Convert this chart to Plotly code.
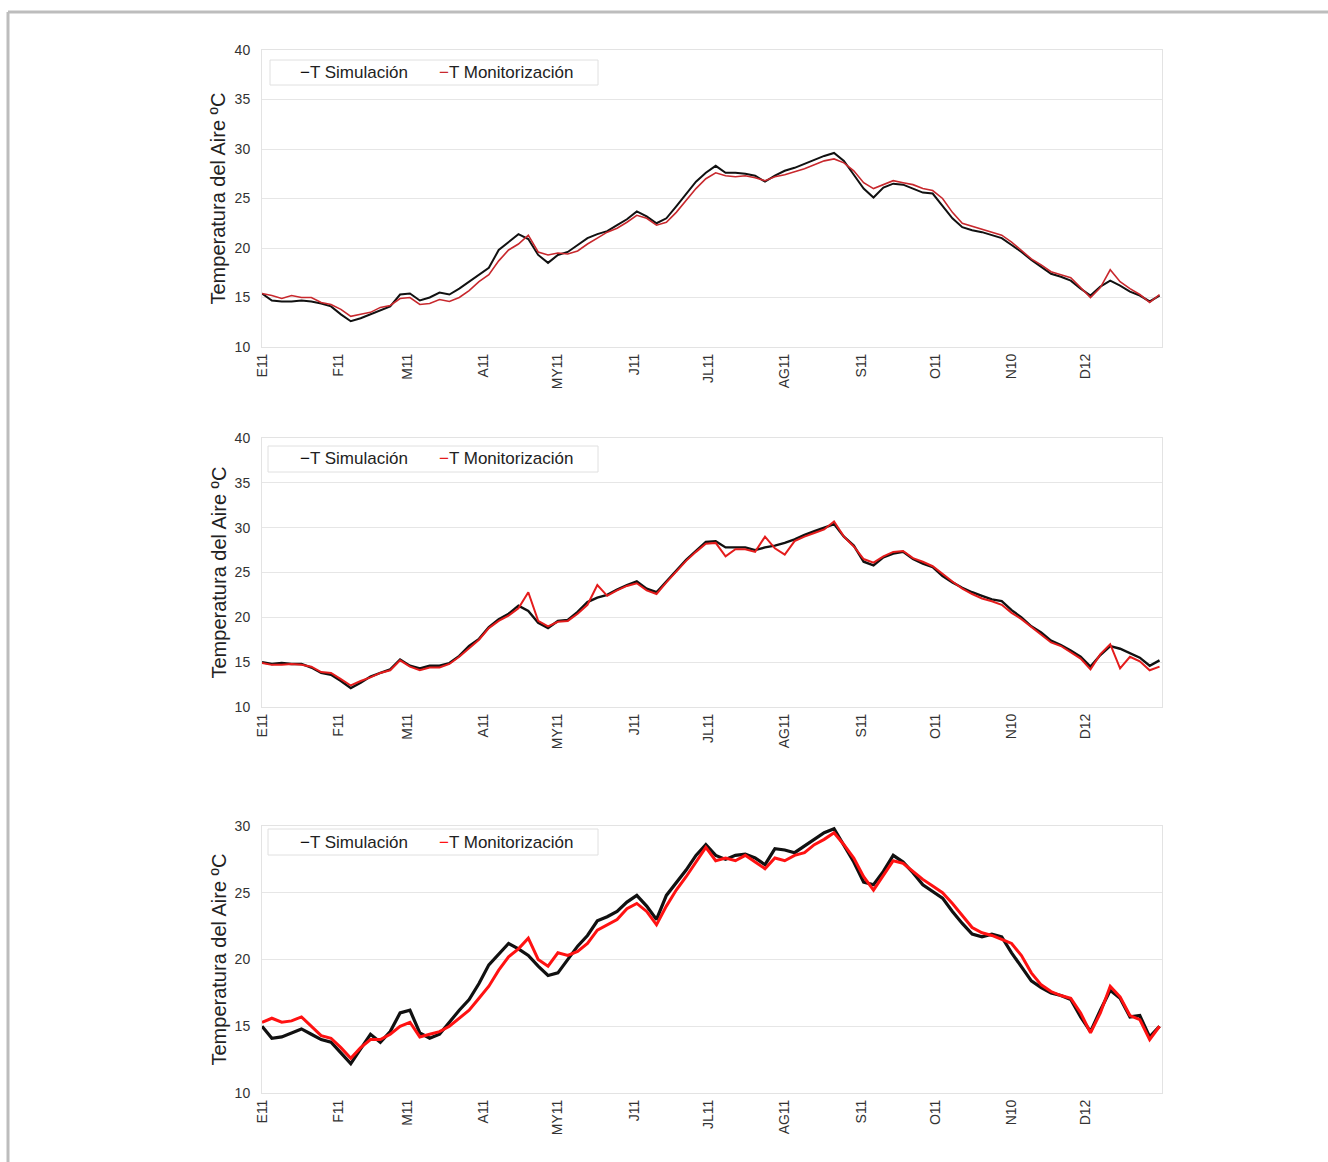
import plotly.graph_objects as go

# ---------------- data ----------------
days = list(range(0, 365, 4))  # sampling days (day of year)

month_ticks = [0, 31, 59, 90, 120, 151, 181, 212, 243, 273, 304, 334]
month_labels = ["E11", "F11", "M11", "A11", "MY11", "J11", "JL11", "AG11", "S11", "O11", "N10", "D12"]

sim_1 = [15.4, 14.7, 14.6, 14.6, 14.7, 14.6, 14.4, 14.1, 13.3, 12.6, 12.9, 13.3, 13.7, 14.1, 15.3, 15.4,
         14.7, 15.0, 15.5, 15.3, 15.9, 16.6, 17.3, 18.0, 19.8, 20.6, 21.4, 20.9, 19.3, 18.5, 19.3, 19.6,
         20.3, 21.0, 21.4, 21.7, 22.3, 22.9, 23.7, 23.2, 22.5, 23.0, 24.2, 25.5, 26.7, 27.6, 28.3, 27.6,
         27.6, 27.5, 27.3, 26.7, 27.3, 27.8, 28.1, 28.5, 28.9, 29.3, 29.6, 28.8, 27.4, 26.0, 25.1, 26.1,
         26.5, 26.4, 26.0, 25.6, 25.5, 24.3, 23.0, 22.1, 21.8, 21.6, 21.3, 21.0, 20.3, 19.6, 18.8, 18.1,
         17.4, 17.1, 16.7, 15.9, 15.2, 16.1, 16.7, 16.2, 15.6, 15.2, 14.6, 15.2]
mon_1 = [15.4, 15.2, 14.9, 15.2, 15.0, 15.0, 14.5, 14.3, 13.8, 13.1, 13.3, 13.5, 14.0, 14.2, 14.9, 15.0,
         14.3, 14.4, 14.8, 14.6, 15.0, 15.7, 16.6, 17.3, 18.7, 19.8, 20.4, 21.3, 19.6, 19.3, 19.5, 19.4,
         19.7, 20.4, 21.0, 21.6, 22.0, 22.6, 23.3, 23.0, 22.3, 22.6, 23.6, 24.8, 26.0, 27.0, 27.6, 27.3,
         27.2, 27.3, 27.1, 26.8, 27.2, 27.4, 27.7, 28.0, 28.4, 28.8, 29.0, 28.6, 27.8, 26.6, 26.0, 26.4,
         26.8, 26.6, 26.4, 26.0, 25.8, 25.0, 23.6, 22.5, 22.2, 21.9, 21.6, 21.3, 20.6, 19.7, 18.9, 18.3,
         17.6, 17.3, 17.0, 16.0, 15.0, 16.0, 17.8, 16.6, 15.9, 15.3, 14.5, 15.3]

sim_2 = [15.0, 14.8, 14.9, 14.8, 14.8, 14.4, 13.8, 13.6, 12.9, 12.1, 12.7, 13.4, 13.8, 14.2, 15.3, 14.6,
         14.3, 14.6, 14.6, 14.9, 15.7, 16.8, 17.6, 18.9, 19.8, 20.4, 21.3, 20.7, 19.4, 18.8, 19.6, 19.7,
         20.6, 21.7, 22.2, 22.5, 23.1, 23.6, 24.0, 23.2, 22.8, 24.0, 25.2, 26.4, 27.4, 28.4, 28.5, 27.8,
         27.8, 27.8, 27.5, 27.8, 28.0, 28.3, 28.7, 29.2, 29.6, 30.0, 30.4, 29.0, 28.0, 26.2, 25.8, 26.7,
         27.1, 27.3, 26.5, 26.0, 25.6, 24.6, 23.9, 23.3, 22.8, 22.4, 22.0, 21.8, 20.8, 20.0, 19.0, 18.3,
         17.4, 16.9, 16.3, 15.6, 14.5, 15.8, 16.8, 16.5, 16.0, 15.5, 14.6, 15.2]
mon_2 = [14.9, 14.7, 14.7, 14.8, 14.7, 14.5, 13.9, 13.8, 13.1, 12.4, 12.9, 13.3, 13.8, 14.1, 15.2, 14.5,
         14.1, 14.4, 14.4, 14.8, 15.6, 16.6, 17.5, 18.8, 19.6, 20.2, 21.0, 22.8, 19.6, 19.0, 19.5, 19.6,
         20.4, 21.4, 23.6, 22.4, 23.0, 23.5, 23.8, 23.0, 22.6, 23.9, 25.1, 26.3, 27.3, 28.2, 28.3, 26.8,
         27.6, 27.6, 27.3, 29.0, 27.7, 27.0, 28.5, 29.0, 29.4, 29.8, 30.7, 29.0, 27.9, 26.5, 26.1, 26.8,
         27.3, 27.4, 26.6, 26.2, 25.7, 24.8, 24.0, 23.2, 22.6, 22.1, 21.8, 21.4, 20.5, 19.8, 18.9, 18.1,
         17.2, 16.8, 16.1, 15.4, 14.2, 15.9, 17.0, 14.3, 15.6, 15.1, 14.1, 14.5]

sim_3 = [15.0, 14.1, 14.2, 14.5, 14.8, 14.4, 14.0, 13.8, 13.0, 12.2, 13.3, 14.4, 13.8, 14.6, 16.0, 16.2,
         14.5, 14.1, 14.4, 15.3, 16.2, 17.0, 18.2, 19.6, 20.4, 21.2, 20.8, 20.3, 19.5, 18.8, 19.0, 20.0,
         21.0, 21.8, 22.9, 23.2, 23.6, 24.3, 24.8, 24.0, 23.0, 24.8, 25.8, 26.7, 27.8, 28.6, 27.8, 27.5,
         27.8, 27.9, 27.6, 27.1, 28.3, 28.2, 28.0, 28.5, 29.0, 29.5, 29.8, 28.6, 27.3, 25.8, 25.6, 26.6,
         27.8, 27.3, 26.5, 25.6, 25.1, 24.6, 23.6, 22.7, 21.9, 21.7, 21.9, 21.7, 20.5, 19.5, 18.4, 17.9,
         17.5, 17.3, 17.0, 15.7, 14.6, 16.2, 17.7, 17.1, 15.7, 15.8, 14.2, 15.0]
mon_3 = [15.3, 15.6, 15.3, 15.4, 15.7, 15.0, 14.3, 14.1, 13.4, 12.6, 13.4, 14.0, 14.0, 14.4, 15.0, 15.3,
         14.2, 14.4, 14.6, 15.0, 15.6, 16.2, 17.1, 18.0, 19.2, 20.2, 20.8, 21.6, 20.0, 19.5, 20.5, 20.3,
         20.6, 21.2, 22.2, 22.6, 23.0, 23.8, 24.2, 23.6, 22.6, 24.0, 25.2, 26.2, 27.3, 28.4, 27.4, 27.6,
         27.4, 27.8, 27.3, 26.8, 27.6, 27.4, 27.8, 28.0, 28.6, 29.0, 29.5, 28.6, 27.6, 26.2, 25.2, 26.3,
         27.4, 27.2, 26.6, 26.0, 25.5, 25.0, 24.2, 23.3, 22.4, 22.0, 21.8, 21.5, 21.2, 20.3, 19.0, 18.1,
         17.6, 17.3, 17.1, 16.0, 14.5, 16.0, 18.0, 17.2, 15.8, 15.5, 14.0, 15.0]

series_names = ["T Simulación", "T Monitorización"]
y_title = "Temperatura del Aire ºC"

# ---------------- layout helpers ----------------
W, H = 1328, 1162
FONT = "Liberation Sans, Arial, sans-serif"

def px_x(x):
    return x / W

def px_y(y):
    return 1 - y / H

panels = [
    dict(sim=sim_1, mon=mon_1, top=50, bottom=347, yr=[10, 40], red="#c8282d", ws=2.0, wm=1.6, leg=(270, 598, 60, 85)),
    dict(sim=sim_2, mon=mon_2, top=438, bottom=707, yr=[10, 40], red="#e41c1c", ws=2.4, wm=2.0, leg=(268, 598, 446, 472)),
    dict(sim=sim_3, mon=mon_3, top=826, bottom=1093, yr=[10, 30], red="#ff1212", ws=3.2, wm=3.0, leg=(268, 598, 829, 855)),
]

x_left, x_right = 262, 1162

fig = go.Figure()
shapes = []
annotations = []

for i, p in enumerate(panels):
    n = "" if i == 0 else str(i + 1)
    xa, ya = "x" + n, "y" + n
    fig.add_trace(go.Scatter(x=days, y=p["sim"], mode="lines", name=series_names[0],
                             line=dict(color="#111111", width=p["ws"]), xaxis=xa, yaxis=ya,
                             showlegend=False))
    fig.add_trace(go.Scatter(x=days, y=p["mon"], mode="lines", name=series_names[1],
                             line=dict(color=p["red"], width=p["wm"]), xaxis=xa, yaxis=ya,
                             showlegend=False))
    axis_common = dict(showline=True, mirror=True, linecolor="#e3e3e3", linewidth=1, automargin=False)
    fig.update_layout(**{
        "xaxis" + n: dict(domain=[px_x(x_left), px_x(x_right)], range=[0, 365], anchor=ya,
                          tickmode="array", tickvals=month_ticks, ticktext=month_labels,
                          tickangle=-90, showgrid=False, zeroline=False,
                          tickfont=dict(family=FONT, size=14, color="#333333"),
                          ticks="", **axis_common),
        "yaxis" + n: dict(domain=[px_y(p["bottom"]), px_y(p["top"])], range=p["yr"], anchor=xa,
                          dtick=5, showgrid=True, gridcolor="#e6e6e6", gridwidth=1,
                          zeroline=False, ticks="", ticklabelstandoff=8,
                          tickfont=dict(family=FONT, size=14, color="#333333"), **axis_common),
    })
    # y axis title
    annotations.append(dict(xref="paper", yref="paper", x=px_x(218), y=px_y((p["top"] + p["bottom"]) / 2),
                            text=y_title, textangle=-90, showarrow=False,
                            font=dict(family=FONT, size=20, color="#222222"),
                            xanchor="center", yanchor="middle"))
    # legend box and entries
    lx0, lx1, ly0, ly1 = p["leg"]
    shapes.append(dict(type="rect", xref="paper", yref="paper", x0=px_x(lx0), x1=px_x(lx1),
                       y0=px_y(ly1), y1=px_y(ly0), line=dict(color="#e0e0e0", width=1),
                       fillcolor="white", layer="above"))
    ymid = px_y((ly0 + ly1) / 2)
    annotations.append(dict(xref="paper", yref="paper", x=px_x(298), y=ymid, showarrow=False,
                            xanchor="left", yanchor="middle",
                            text='<span style="color:#111111">−</span>' + series_names[0],
                            font=dict(family=FONT, size=17, color="#222222")))
    annotations.append(dict(xref="paper", yref="paper", x=px_x(437), y=ymid, showarrow=False,
                            xanchor="left", yanchor="middle",
                            text='<span style="color:%s">−</span>' % p["red"] + series_names[1],
                            font=dict(family=FONT, size=17, color="#222222")))

# page frame (top and left gray lines)
shapes.append(dict(type="line", xref="paper", yref="paper", x0=px_x(8), x1=1, y0=px_y(12), y1=px_y(12),
                   line=dict(color="#bdbdbd", width=3)))
shapes.append(dict(type="line", xref="paper", yref="paper", x0=px_x(8), x1=px_x(8), y0=0, y1=px_y(12),
                   line=dict(color="#bdbdbd", width=3)))

fig.update_layout(width=W, height=H, autosize=False,
                  margin=dict(l=0, r=0, t=0, b=0, pad=0, autoexpand=False),
                  paper_bgcolor="white", plot_bgcolor="white", showlegend=False,
                  shapes=shapes, annotations=annotations,
                  font=dict(family=FONT, color="#333333"))

fig.write_html("out.html",
               config={"displayModeBar": False},
               post_script="document.body.style.margin='0';document.body.style.padding='0';"
                           "document.documentElement.style.overflow='hidden';")
